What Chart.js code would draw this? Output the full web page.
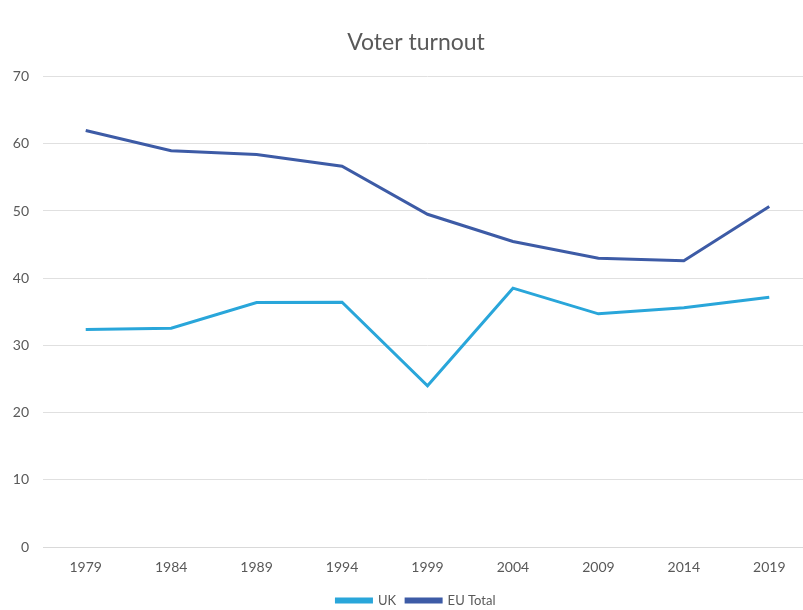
<!DOCTYPE html>
<html>
<head>
<meta charset="utf-8">
<script src="https://cdn.jsdelivr.net/npm/chart.js@4/dist/chart.umd.min.js"></script>
<style>
html,body{margin:0;padding:0;background:#fff;overflow:hidden;width:803px;height:610px;}
#wrap{position:absolute;left:0;top:0;width:832px;height:617px;}
</style>
</head>
<body>
<div id="wrap"><canvas id="c" width="832" height="617"></canvas></div>
<script>
const years = ['1979','1984','1989','1994','1999','2004','2009','2014','2019'];
const ukTurnout = [32.35, 32.57, 36.37, 36.43, 24.0, 38.52, 34.7, 35.6, 37.18];
const euTurnout = [61.99, 58.98, 58.41, 56.67, 49.51, 45.47, 42.97, 42.61, 50.66];
const yTicks = [0, 10, 20, 30, 40, 50, 60, 70];

const FONT = 'Lato, "Open Sans", sans-serif';
const GREY = '#595959';

new Chart(document.getElementById('c'), {
  type: 'line',
  data: {
    labels: years,
    datasets: [
      { label: 'UK', data: ukTurnout, borderColor: '#29A6DA', backgroundColor: '#29A6DA', borderWidth: 3, pointRadius: 0, tension: 0 },
      { label: 'EU Total', data: euTurnout, borderColor: '#3D5BA6', backgroundColor: '#3D5BA6', borderWidth: 3, pointRadius: 0, tension: 0 }
    ]
  },
  options: {
    responsive: false,
    animation: false,
    layout: { padding: 0 },
    plugins: {
      title: {
        display: true, text: 'Voter turnout', color: GREY,
        font: { family: FONT, size: 23, weight: 'normal' },
        padding: { top: 29, bottom: 20 }
      },
      legend: {
        position: 'bottom',
        labels: {
          boxWidth: 35, boxHeight: 3, borderWidth: 0,
          color: GREY, font: { family: FONT, size: 13 }, padding: 10
        }
      },
      tooltip: { enabled: false }
    },
    scales: {
      x: {
        offset: true,
        afterFit: (s) => { s.height = 37; },
        grid: { display: false, drawTicks: false },
        border: { display: true, color: '#D9D9D9', width: 1 },
        ticks: { color: GREY, font: { family: FONT, size: 14 }, padding: 12, maxRotation: 0 }
      },
      y: {
        min: 0, max: 70,
        afterBuildTicks: (s) => { s.ticks = yTicks.map(v => ({ value: v })); },
        afterFit: (s) => { s.width = 43; },
        grid: { color: '#E0E0E0', lineWidth: 1, drawTicks: false },
        border: { display: false },
        ticks: { color: GREY, font: { family: FONT, size: 14 }, padding: 14 }
      },
      yRight: {
        position: 'right', display: true,
        afterFit: (s) => { s.width = 20; },
        grid: { display: false, drawTicks: false },
        border: { display: false },
        ticks: { display: false }
      }
    }
  }
});
</script>
</body>
</html>
